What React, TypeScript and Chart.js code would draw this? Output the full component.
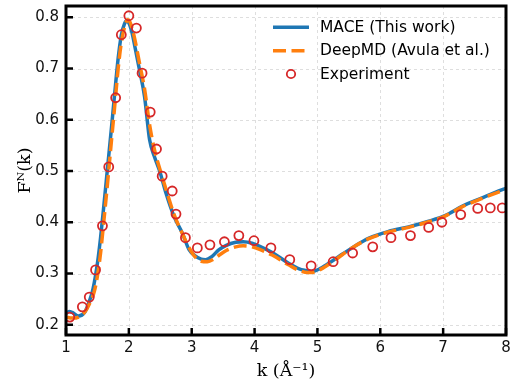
import React, { useEffect, useRef } from "react";
import { Chart, registerables } from "chart.js";

Chart.register(...registerables);

const maceK = [1.0, 1.05, 1.1, 1.2, 1.3, 1.37, 1.43, 1.5, 1.55, 1.6, 1.66, 1.72, 1.77, 1.83, 1.88, 1.93, 1.965, 2.0, 2.05, 2.1, 2.17, 2.25, 2.33, 2.41, 2.49, 2.59, 2.72, 2.85, 2.96, 3.05, 3.15, 3.22, 3.32, 3.43, 3.55, 3.7, 3.82, 3.96, 4.1, 4.28, 4.54, 4.71, 4.81, 4.92, 5.05, 5.23, 5.4, 5.55, 5.82, 6.13, 6.45, 6.77, 7.03, 7.3, 7.61, 7.93, 8.0];
const maceF = [0.222, 0.226, 0.224, 0.217, 0.225, 0.245, 0.27, 0.32, 0.37, 0.43, 0.505, 0.58, 0.645, 0.72, 0.765, 0.787, 0.793, 0.789, 0.77, 0.74, 0.697, 0.645, 0.561, 0.527, 0.5, 0.457, 0.411, 0.379, 0.346, 0.335, 0.328, 0.327, 0.333, 0.346, 0.355, 0.361, 0.362, 0.359, 0.352, 0.341, 0.32, 0.309, 0.306, 0.304, 0.31, 0.324, 0.338, 0.35, 0.369, 0.382, 0.391, 0.402, 0.413, 0.431, 0.447, 0.463, 0.466];

const deepmdK = [1.0, 1.1, 1.2, 1.3, 1.37, 1.45, 1.5, 1.55, 1.6, 1.66, 1.72, 1.77, 1.83, 1.88, 1.93, 1.98, 2.02, 2.08, 2.17, 2.25, 2.33, 2.41, 2.49, 2.59, 2.72, 2.85, 2.96, 3.05, 3.15, 3.25, 3.35, 3.45, 3.55, 3.7, 3.82, 3.96, 4.1, 4.28, 4.54, 4.71, 4.85, 4.95, 5.05, 5.23, 5.4, 5.55, 5.82, 6.13, 6.45, 6.77, 7.03, 7.3, 7.61, 7.93, 8.0];
const deepmdF = [0.215, 0.213, 0.215, 0.225, 0.24, 0.265, 0.295, 0.34, 0.4, 0.475, 0.555, 0.62, 0.7, 0.75, 0.78, 0.795, 0.79, 0.765, 0.71, 0.66, 0.59, 0.54, 0.505, 0.465, 0.415, 0.378, 0.35, 0.333, 0.324, 0.323, 0.328, 0.337, 0.345, 0.352, 0.354, 0.352, 0.346, 0.336, 0.317, 0.306, 0.302, 0.303, 0.308, 0.322, 0.337, 0.35, 0.368, 0.381, 0.39, 0.401, 0.412, 0.43, 0.446, 0.461, 0.464];

const expK = [1.06, 1.26, 1.37, 1.47, 1.58, 1.68, 1.79, 1.88, 2.0, 2.12, 2.21, 2.34, 2.44, 2.53, 2.69, 2.75, 2.9, 3.09, 3.29, 3.52, 3.75, 3.99, 4.26, 4.56, 4.9, 5.25, 5.56, 5.88, 6.17, 6.48, 6.77, 6.98, 7.28, 7.55, 7.75, 7.94];
const expF = [0.215, 0.235, 0.254, 0.307, 0.393, 0.508, 0.643, 0.766, 0.803, 0.779, 0.691, 0.615, 0.543, 0.49, 0.461, 0.416, 0.37, 0.35, 0.356, 0.362, 0.374, 0.364, 0.35, 0.327, 0.315, 0.323, 0.34, 0.352, 0.37, 0.374, 0.39, 0.4, 0.415, 0.427, 0.428, 0.428];

const xTicks = [1, 2, 3, 4, 5, 6, 7, 8];
const yTicks = [0.2, 0.3, 0.4, 0.5, 0.6, 0.7, 0.8];

const legendLabels = ["MACE (This work)", "DeepMD (Avula et al.)", "Experiment"];
const xTitle = "k (Å⁻¹)";
const yTitle = "Fᴺ(k)";

const BLUE = "#1f77b4";
const ORANGE = "#ff7f0e";
const RED = "#d62728";

const toPts = (xs: number[], ys: number[]) => xs.map((x, i) => ({ x, y: ys[i] }));

const decor = {
  id: "decor",
  beforeDatasetsDraw(chart: any) {
    const { ctx, chartArea: a, scales } = chart;
    ctx.save();
    ctx.strokeStyle = "rgba(180,180,180,0.55)";
    ctx.lineWidth = 0.8;
    ctx.setLineDash([3, 3]);
    xTicks.forEach((t) => {
      const p = Math.round(scales.x.getPixelForValue(t)) + 0.5;
      ctx.beginPath();
      ctx.moveTo(p, a.top);
      ctx.lineTo(p, a.bottom);
      ctx.stroke();
    });
    yTicks.forEach((t) => {
      const p = Math.round(scales.y.getPixelForValue(t)) + 0.5;
      ctx.beginPath();
      ctx.moveTo(a.left, p);
      ctx.lineTo(a.right, p);
      ctx.stroke();
    });
    ctx.restore();
  },
  afterDraw(chart: any) {
    const { ctx, chartArea: a, scales } = chart;
    ctx.save();
    ctx.setLineDash([]);
    ctx.strokeStyle = "#000";
    ctx.lineWidth = 2.5;
    xTicks.forEach((t) => {
      const p = scales.x.getPixelForValue(t);
      ctx.beginPath();
      ctx.moveTo(p, a.bottom);
      ctx.lineTo(p, a.bottom - 7);
      ctx.stroke();
    });
    yTicks.forEach((t) => {
      const p = scales.y.getPixelForValue(t);
      ctx.beginPath();
      ctx.moveTo(a.left, p);
      ctx.lineTo(a.left + 7, p);
      ctx.stroke();
    });
    ctx.lineWidth = 3;
    ctx.strokeRect(a.left, a.top, a.right - a.left, a.bottom - a.top);

    const lx0 = 273, lx1 = 309, tx = 320;
    const rows = [27.3, 50.7, 74];
    ctx.lineWidth = 3.5;
    ctx.strokeStyle = BLUE;
    ctx.beginPath();
    ctx.moveTo(lx0, rows[0]);
    ctx.lineTo(lx1, rows[0]);
    ctx.stroke();
    ctx.strokeStyle = ORANGE;
    ctx.setLineDash([13, 5.5]);
    ctx.beginPath();
    ctx.moveTo(lx0, rows[1]);
    ctx.lineTo(lx1, rows[1]);
    ctx.stroke();
    ctx.setLineDash([]);
    ctx.strokeStyle = RED;
    ctx.lineWidth = 1.8;
    ctx.beginPath();
    ctx.arc((lx0 + lx1) / 2, rows[2], 4.2, 0, Math.PI * 2);
    ctx.stroke();
    ctx.fillStyle = "#000";
    ctx.font = '15.5px "DejaVu Sans"';
    ctx.textAlign = "left";
    ctx.textBaseline = "middle";
    legendLabels.forEach((l, i) => ctx.fillText(l, tx, rows[i] + 0.5));

    ctx.font = '17.5px "DejaVu Serif"';
    ctx.textAlign = "center";
    ctx.textBaseline = "alphabetic";
    ctx.fillText(xTitle, (a.left + a.right) / 2, 376);
    ctx.save();
    ctx.translate(29.5, (a.top + a.bottom) / 2);
    ctx.rotate(-Math.PI / 2);
    ctx.fillText(yTitle, 0, 0);
    ctx.restore();
    ctx.restore();
  },
};

export default function App() {
  const ref = useRef<HTMLCanvasElement | null>(null);
  useEffect(() => {
    document.body.style.margin = "0";
    const canvas = ref.current!;
    const chart = new Chart(canvas, {
      type: "line",
      data: {
        datasets: [
          {
            label: legendLabels[2],
            data: toPts(expK, expF),
            showLine: false,
            pointRadius: 4.5,
            pointBorderWidth: 1.8,
            pointBorderColor: RED,
            pointBackgroundColor: "rgba(0,0,0,0)",
            borderColor: RED,
          },
          {
            label: legendLabels[1],
            data: toPts(deepmdK, deepmdF),
            borderColor: ORANGE,
            borderWidth: 3.5,
            borderDash: [13, 5.5],
            pointRadius: 0,
            cubicInterpolationMode: "monotone",
            fill: false,
          },
          {
            label: legendLabels[0],
            data: toPts(maceK, maceF),
            borderColor: BLUE,
            borderWidth: 3.5,
            pointRadius: 0,
            cubicInterpolationMode: "monotone",
            fill: false,
          },
        ],
      },
      options: {
        animation: false,
        responsive: false,
        devicePixelRatio: 1,
        layout: { autoPadding: false, padding: { top: 6, right: 5, left: 0, bottom: 0 } },
        plugins: { legend: { display: false }, tooltip: { enabled: false } },
        scales: {
          x: {
            type: "linear",
            min: 1,
            max: 8,
            grid: { display: false, drawTicks: false },
            border: { display: false },
            ticks: {
              padding: 4,
              color: "#111",
              font: { family: "DejaVu Sans", size: 15 },
              maxRotation: 0,
            },
            afterBuildTicks: (s: any) => {
              s.ticks = xTicks.map((v) => ({ value: v }));
            },
            afterFit: (s: any) => {
              s.height = 44;
              s.paddingLeft = 0;
              s.paddingRight = 0;
            },
          },
          y: {
            type: "linear",
            min: 0.18,
            max: 0.822,
            grid: { display: false, drawTicks: false },
            border: { display: false },
            ticks: {
              padding: 7,
              color: "#111",
              font: { family: "DejaVu Sans", size: 15 },
              callback: (v: any) => Number(v).toFixed(1),
            },
            afterBuildTicks: (s: any) => {
              s.ticks = yTicks.map((v) => ({ value: v }));
            },
            afterFit: (s: any) => {
              s.width = 66;
              s.paddingTop = 0;
              s.paddingBottom = 0;
            },
          },
        },
      },
      plugins: [decor],
    });
    return () => chart.destroy();
  }, []);
  return (
    <div style={{ width: 511, height: 379 }}>
      <canvas ref={ref} width={511} height={379} style={{ display: "block" }} />
    </div>
  );
}
